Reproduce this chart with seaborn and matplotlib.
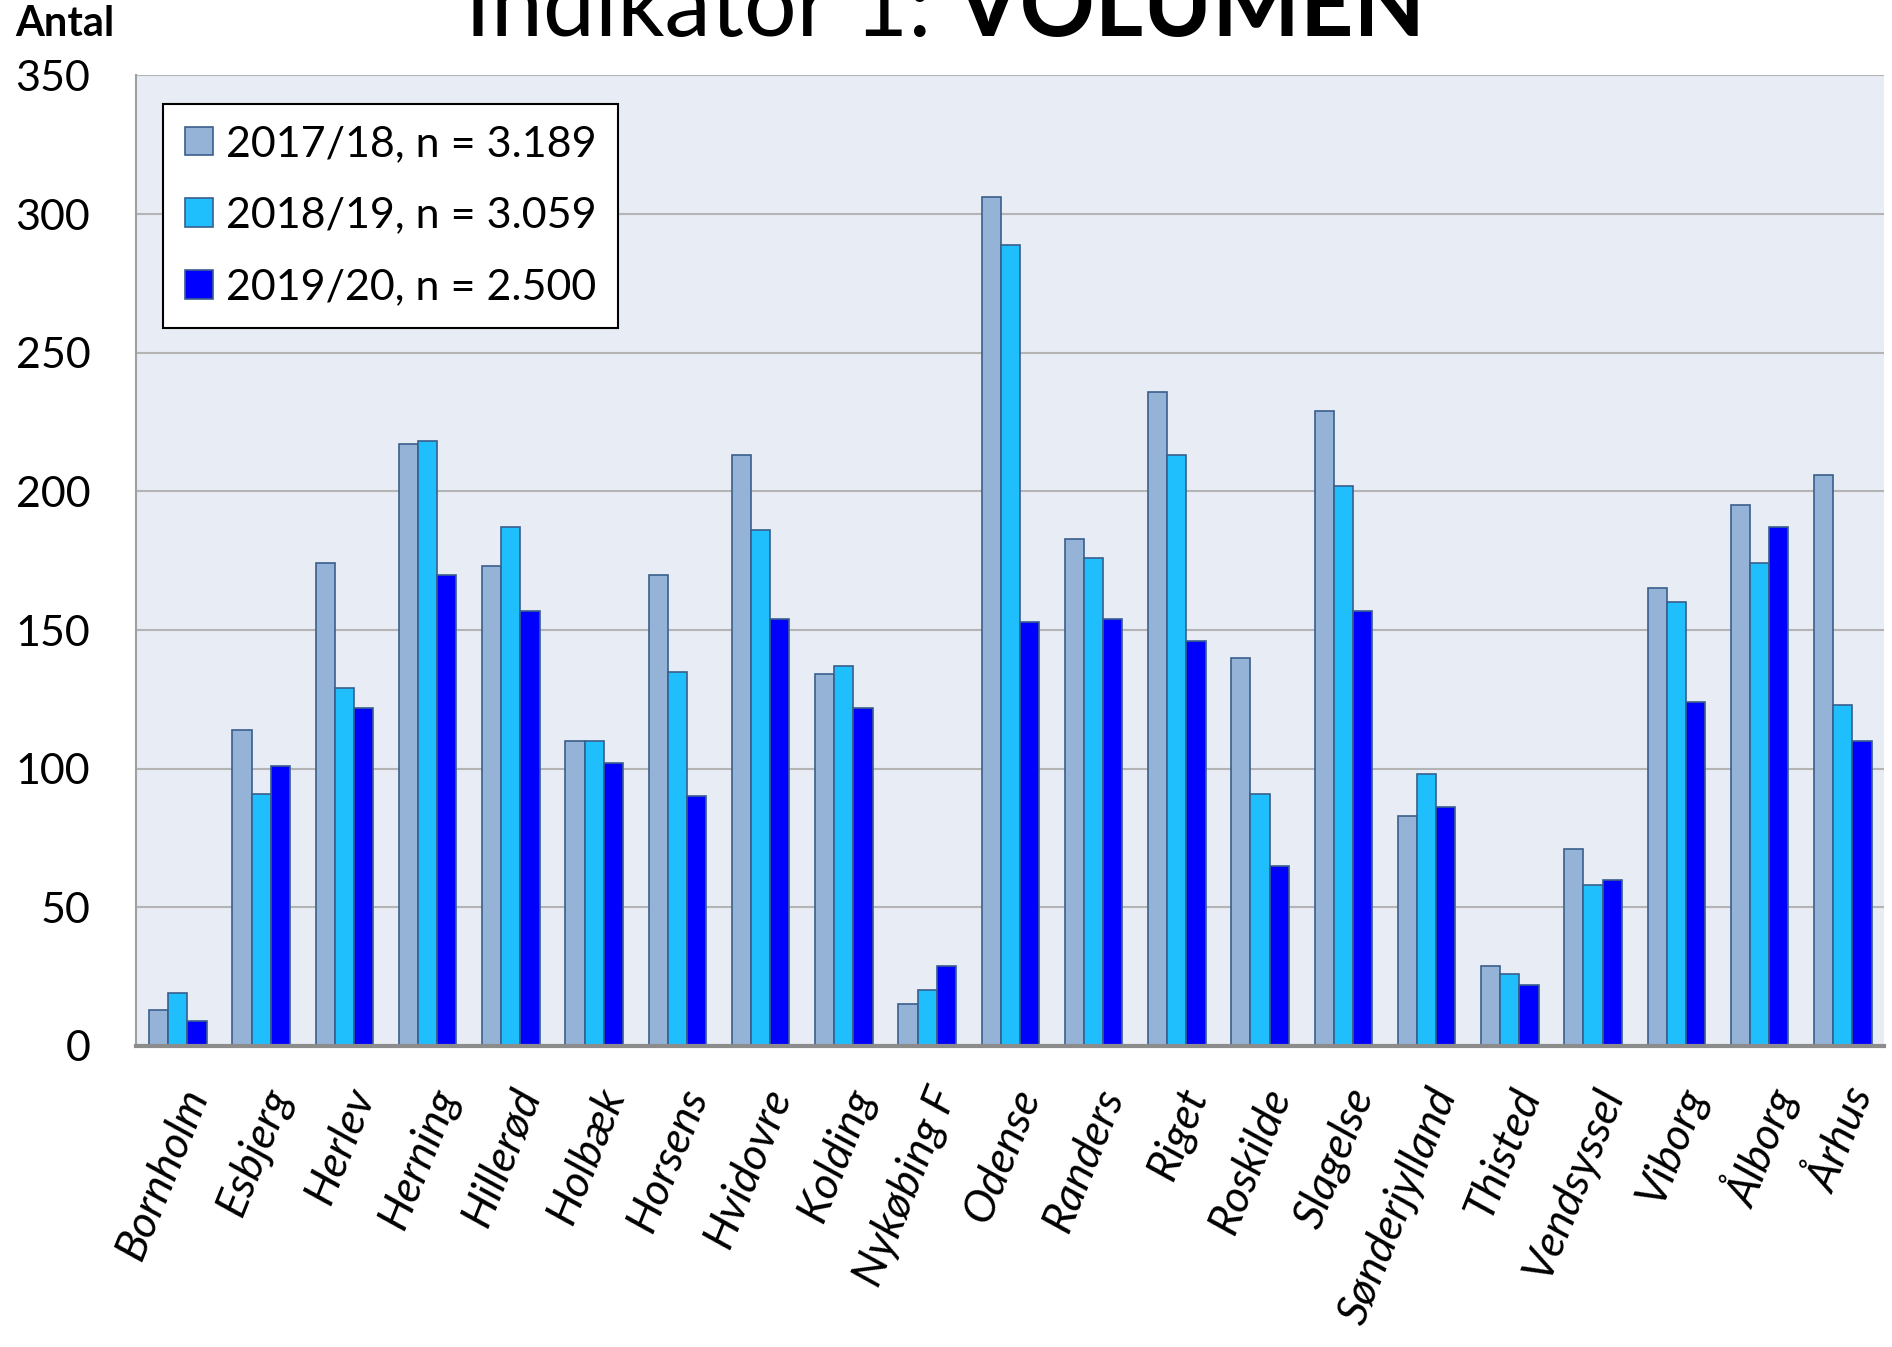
import numpy as np
import pandas as pd
import matplotlib.pyplot as plt
import seaborn as sns

sygehuse = ['Bornholm', 'Esbjerg', 'Herlev', 'Herning', 'Hillerød', 'Holbæk', 'Horsens',
            'Hvidovre', 'Kolding', 'Nykøbing F', 'Odense', 'Randers', 'Riget', 'Roskilde',
            'Slagelse', 'Sønderjylland', 'Thisted', 'Vendsyssel', 'Viborg', 'Ålborg', 'Århus']
perioder = ['2017/18, n = 3.189', '2018/19, n = 3.059', '2019/20, n = 2.500']
v2017 = [13, 114, 174, 217, 173, 110, 170, 213, 134, 15, 306, 183, 236, 140, 229, 83, 29, 71, 165, 195, 206]
v2018 = [19, 91, 129, 218, 187, 110, 135, 186, 137, 20, 289, 176, 213, 91, 202, 98, 26, 58, 160, 174, 123]
v2019 = [9, 101, 122, 170, 157, 102, 90, 154, 122, 29, 153, 154, 146, 65, 157, 86, 22, 60, 124, 187, 110]
farver = ['#95b3d7', '#1fbefd', '#0000ff']

df = pd.DataFrame({
    'Sygehus': sygehuse * 3,
    'Periode': np.repeat(perioder, len(sygehuse)),
    'Antal': v2017 + v2018 + v2019,
})

sns.set_style('white')
plt.rcParams['font.family'] = ['Lato', 'DejaVu Sans']
plt.rcParams['text.color'] = 'black'
plt.rcParams['xtick.labelcolor'] = 'black'
plt.rcParams['ytick.labelcolor'] = 'black'

fig = plt.figure(figsize=(18.92, 13.47), dpi=100)
ax = fig.add_axes([0.072, 0.2235, 0.924, 0.7205])
ax.set_facecolor('#e8ecf4')

sns.barplot(data=df, x='Sygehus', y='Antal', hue='Periode', palette=farver,
            width=0.69, edgecolor='#3a5f8c', linewidth=1.2, saturation=1, ax=ax)

ax.set_ylim(0, 350)
ax.set_xlim(-0.5, len(sygehuse) - 0.5)
ax.set_yticks(range(0, 351, 50))
ax.yaxis.grid(True, color='#b4b4b4', linewidth=1.5)
ax.set_axisbelow(True)
ax.set_xlabel('')
ax.set_ylabel('')

for side in ['top', 'right']:
    ax.spines[side].set_visible(False)
ax.spines['left'].set_color('#a0a0a0')
ax.spines['left'].set_linewidth(1.5)
ax.spines['bottom'].set_color('#8c8c8c')
ax.spines['bottom'].set_linewidth(3)

ax.tick_params(axis='y', labelsize=31, length=11, width=1.5, color='#a0a0a0', pad=22)
ax.tick_params(axis='x', which='major', length=0, pad=26)
ax.set_xticks(np.arange(-0.5, len(sygehuse)), minor=True)
ax.tick_params(axis='x', which='minor', direction='inout', length=22, width=1.5, color='#a0a0a0')
ax.set_xticks(range(len(sygehuse)))
ax.set_xticklabels(sygehuse, rotation=68, ha='right', rotation_mode='anchor',
                   fontsize=32, fontstyle='italic')

leg = ax.legend(loc='upper left', bbox_to_anchor=(0.0155, 0.971), fontsize=31,
                frameon=True, fancybox=False, edgecolor='black', framealpha=1,
                handlelength=0.65, handleheight=0.65, handletextpad=0.3,
                labelspacing=0.78, borderpad=0.5, borderaxespad=0)
leg.get_frame().set_linewidth(1.5)

fig.text(0.008, 0.982, 'Antal', fontsize=30, fontweight='bold', va='center', ha='left')
fig.text(0.505, 0.973, 'Indikator 1: ', fontsize=67, ha='right', va='baseline')
fig.text(0.505, 0.973, 'VOLUMEN', fontsize=67, fontweight='bold', ha='left', va='baseline')

fig.savefig('out.png', dpi=100)
